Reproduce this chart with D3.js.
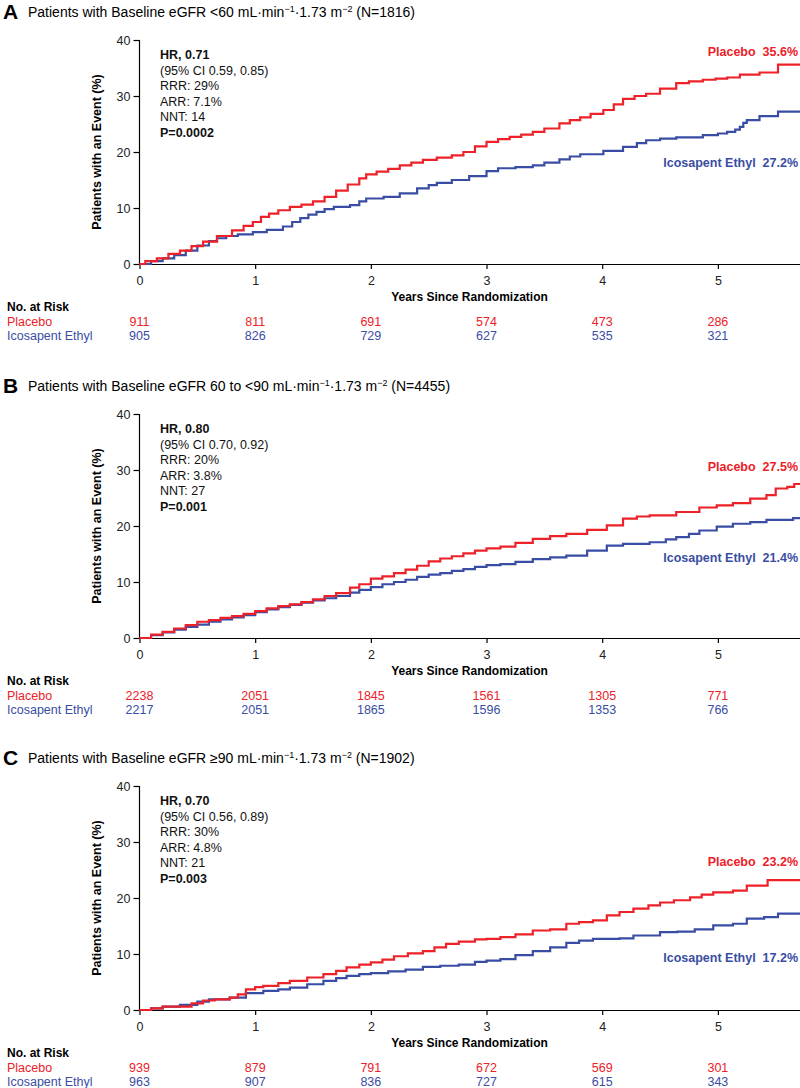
<!DOCTYPE html>
<html><head><meta charset="utf-8">
<script src="https://cdn.jsdelivr.net/npm/d3@7"></script>
<style>body{margin:0;background:#fff}svg{display:block}text{font-family:"Liberation Sans",Arial,sans-serif}</style>
</head><body><svg id="c" width="800" height="1088"></svg>
<script>
// ---------- data ----------
const years = [0, 1, 2, 3, 4, 5];
const yTicks = [0, 10, 20, 30, 40];
const groups = ["Placebo", "Icosapent Ethyl"];

const panelLetters = ["A", "B", "C"];
const panelTitles = [
  ["Patients with Baseline eGFR <60 mL·min", "−1", "·1.73 m", "−2", " (N=1816)"],
  ["Patients with Baseline eGFR 60 to <90 mL·min", "−1", "·1.73 m", "−2", " (N=4455)"],
  ["Patients with Baseline eGFR ≥90 mL·min", "−1", "·1.73 m", "−2", " (N=1902)"]
];
const statsHR = ["HR, 0.71", "HR, 0.80", "HR, 0.70"];
const statsCI = ["(95% CI 0.59, 0.85)", "(95% CI 0.70, 0.92)", "(95% CI 0.56, 0.89)"];
const statsRRR = ["RRR: 29%", "RRR: 20%", "RRR: 30%"];
const statsARR = ["ARR: 7.1%", "ARR: 3.8%", "ARR: 4.8%"];
const statsNNT = ["NNT: 14", "NNT: 27", "NNT: 21"];
const statsP = ["P=0.0002", "P=0.001", "P=0.003"];
const finalPlacebo = ["35.6%", "27.5%", "23.2%"];
const finalIcosapent = ["27.2%", "21.4%", "17.2%"];

const riskPlacebo = [
  [911, 811, 691, 574, 473, 286],
  [2238, 2051, 1845, 1561, 1305, 771],
  [939, 879, 791, 672, 569, 301]
];
const riskIcosapent = [
  [905, 826, 729, 627, 535, 321],
  [2217, 2051, 1865, 1596, 1353, 766],
  [963, 907, 836, 727, 615, 343]
];

// Kaplan-Meier cumulative event curves [years, %]
const kmPlaceboA = [[0,0],[0.05,0.5],[0.15,1.0],[0.25,1.8],[0.35,2.4],[0.45,3.2],[0.55,4.0],[0.67,5.0],[0.8,6.0],[0.9,6.8],[0.98,7.5],[1.05,8.4],[1.12,9.0],[1.2,9.6],[1.3,10.2],[1.4,10.6],[1.5,11.2],[1.6,12.0],[1.7,13.1],[1.8,14.2],[1.9,15.3],[1.96,16.0],[2.05,16.5],[2.15,17.0],[2.25,17.6],[2.35,18.1],[2.45,18.6],[2.57,19.0],[2.7,19.4],[2.8,20.0],[2.9,21.0],[3.0,21.8],[3.1,22.3],[3.2,22.7],[3.3,23.1],[3.4,23.6],[3.5,24.2],[3.63,25.1],[3.72,25.7],[3.81,26.2],[3.9,26.8],[4.01,27.5],[4.1,28.5],[4.18,29.5],[4.28,30.0],[4.38,30.4],[4.5,31.3],[4.64,32.3],[4.75,32.6],[4.87,32.9],[4.98,33.1],[5.08,33.3],[5.19,33.8],[5.36,34.2],[5.52,35.6],[5.71,35.6]];
const kmIcosapentA = [[0,0],[0.1,0.5],[0.2,1.0],[0.3,1.6],[0.4,2.4],[0.5,3.3],[0.6,4.1],[0.67,4.6],[0.75,5.0],[0.85,5.3],[0.98,5.7],[1.1,6.1],[1.24,6.7],[1.32,7.5],[1.39,8.2],[1.46,8.8],[1.53,9.3],[1.6,9.8],[1.68,10.2],[1.82,10.5],[1.9,11.2],[1.96,11.7],[2.11,12.0],[2.25,12.6],[2.4,13.5],[2.5,14.1],[2.57,14.5],[2.7,15.0],[2.85,15.7],[3.0,16.6],[3.1,17.1],[3.25,17.3],[3.4,17.6],[3.5,18.1],[3.63,18.7],[3.72,19.2],[3.81,19.6],[4.01,20.2],[4.18,20.9],[4.3,21.6],[4.38,22.1],[4.5,22.4],[4.64,22.6],[4.87,23.0],[5.0,23.3],[5.08,23.6],[5.15,24.0],[5.19,24.5],[5.22,25.2],[5.25,25.7],[5.36,26.4],[5.52,27.2],[5.71,27.2]];
const kmPlaceboB = [[0,0],[0.1,0.6],[0.2,1.1],[0.3,1.7],[0.4,2.3],[0.5,2.9],[0.6,3.2],[0.7,3.6],[0.8,3.9],[0.9,4.3],[1.0,4.8],[1.1,5.3],[1.2,5.7],[1.3,6.0],[1.4,6.4],[1.5,6.9],[1.6,7.5],[1.7,8.0],[1.82,9.0],[1.9,9.6],[2.0,10.6],[2.1,11.0],[2.2,11.6],[2.3,12.2],[2.4,12.9],[2.5,13.7],[2.6,14.2],[2.7,14.6],[2.8,15.1],[2.9,15.6],[3.0,16.0],[3.12,16.3],[3.25,17.0],[3.4,17.7],[3.55,18.2],[3.69,18.6],[3.87,19.3],[4.04,20.1],[4.18,21.3],[4.3,21.7],[4.41,21.9],[4.64,22.5],[4.84,23.3],[4.99,23.7],[5.13,24.1],[5.28,24.9],[5.42,25.5],[5.5,26.7],[5.6,27.0],[5.66,27.5],[5.71,27.5]];
const kmIcosapentB = [[0,0],[0.1,0.5],[0.2,1.0],[0.3,1.5],[0.4,2.0],[0.5,2.4],[0.6,2.9],[0.7,3.3],[0.8,3.7],[0.9,4.1],[1.0,4.6],[1.1,5.1],[1.2,5.5],[1.3,5.9],[1.4,6.3],[1.5,6.7],[1.6,7.1],[1.7,7.5],[1.82,8.1],[1.9,8.6],[2.0,9.1],[2.1,9.6],[2.2,10.0],[2.3,10.4],[2.4,10.9],[2.5,11.3],[2.6,11.6],[2.7,12.0],[2.8,12.3],[2.9,12.7],[3.0,13.0],[3.12,13.2],[3.25,13.6],[3.4,14.1],[3.55,14.4],[3.69,14.7],[3.87,15.6],[4.04,16.5],[4.18,16.8],[4.41,17.1],[4.55,17.6],[4.64,18.0],[4.75,18.6],[4.84,19.2],[4.99,19.9],[5.13,20.4],[5.28,20.7],[5.42,21.1],[5.65,21.4],[5.71,21.4]];
const kmPlaceboC = [[0,0],[0.1,0.3],[0.2,0.6],[0.37,0.6],[0.45,1.2],[0.55,1.7],[0.65,1.9],[0.78,2.2],[0.85,2.8],[0.92,3.7],[1.0,4.1],[1.07,4.3],[1.2,4.8],[1.3,5.2],[1.45,5.8],[1.59,6.4],[1.7,7.0],[1.79,7.6],[1.9,8.1],[2.0,8.5],[2.1,9.0],[2.2,9.6],[2.32,10.1],[2.45,10.5],[2.55,11.2],[2.65,11.8],[2.76,12.2],[2.9,12.6],[3.0,12.7],[3.12,13.0],[3.25,13.5],[3.4,14.2],[3.55,14.4],[3.69,15.4],[3.8,15.7],[3.92,16.0],[4.04,16.9],[4.15,17.5],[4.27,18.1],[4.4,18.7],[4.5,19.2],[4.62,19.6],[4.76,20.1],[4.86,20.6],[4.96,21.0],[5.13,21.3],[5.25,22.2],[5.43,23.2],[5.71,23.2]];
const kmIcosapentC = [[0,0],[0.1,0.3],[0.2,0.6],[0.35,0.9],[0.5,1.5],[0.6,1.9],[0.78,2.2],[0.92,3.0],[1.07,3.4],[1.2,3.7],[1.3,4.0],[1.45,4.6],[1.59,5.2],[1.7,5.7],[1.79,6.1],[1.9,6.4],[2.0,6.6],[2.15,6.9],[2.3,7.2],[2.45,7.7],[2.6,7.9],[2.76,8.1],[2.9,8.6],[3.0,8.8],[3.12,9.1],[3.25,9.8],[3.4,10.5],[3.55,11.2],[3.69,12.0],[3.8,12.4],[3.92,12.7],[4.15,12.8],[4.27,13.3],[4.5,13.9],[4.65,14.0],[4.8,14.4],[4.96,15.1],[5.13,15.4],[5.25,16.3],[5.4,16.6],[5.52,17.2],[5.71,17.2]];
const kmPlacebo = [kmPlaceboA, kmPlaceboB, kmPlaceboC];
const kmIcosapent = [kmIcosapentA, kmIcosapentB, kmIcosapentC];

// ---------- layout ----------
const RED = "#ED2128", BLUE = "#3A4DA4";
const FONT = '"Liberation Sans", Arial, sans-serif';
const panelOffsets = [0, 374, 746];
const placeboLabelY = [56, 97, 120];
const icoLabelY = [166.5, 187.5, 215.5];
const svg = d3.select("#c");
const x = d3.scaleLinear().domain([0, 5.71]).range([139.5, 800]);

panelLetters.forEach((letter, i) => {
  const off = panelOffsets[i];
  const g = svg.append("g").attr("transform", `translate(0,${off})`);
  const y = d3.scaleLinear().domain([0, 40]).range([264, 40]);

  // title
  g.append("text").attr("x", 3).attr("y", 19).attr("font-size", 21).attr("font-weight", "bold").text(letter);
  const t = g.append("text").attr("x", 28).attr("y", 17).attr("font-size", 14);
  panelTitles[i].forEach((s, k) => {
    const ts = t.append("tspan").text(s);
    if (k === 1 || k === 3) ts.attr("font-size", 9).attr("dy", -5);
    if (k === 2 || k === 4) ts.attr("dy", 5);
  });

  // axes
  const ya = g.append("g").attr("transform", "translate(139.5,0)")
    .call(d3.axisLeft(y).tickValues(yTicks).tickSize(6).tickSizeOuter(0).tickPadding(3));
  const xa = g.append("g").attr("transform", "translate(0,264)")
    .call(d3.axisBottom(x).tickValues(years).tickFormat(d3.format("d")).tickSize(5).tickSizeOuter(0).tickPadding(7));
  [ya, xa].forEach(a => {
    a.selectAll("path,line").attr("stroke", "#000").attr("stroke-width", 1.2);
    a.selectAll("text").attr("font-size", 12.5).attr("font-family", FONT).attr("fill", "#222");
  });
  ya.select(".domain").attr("d", `M0,${y(40)}V${y(0)}`);

  g.append("text").attr("transform", "translate(101,152) rotate(-90)").attr("text-anchor", "middle")
    .attr("font-size", 12.5).attr("font-weight", "bold").text("Patients with an Event (%)");
  g.append("text").attr("x", 469.5).attr("y", 301).attr("text-anchor", "middle")
    .attr("font-size", 12).attr("font-weight", "bold").text("Years Since Randomization");

  // curves
  const line = d3.line().x(d => x(d[0])).y(d => y(d[1])).curve(d3.curveStepAfter);
  g.append("path").datum(kmIcosapent[i]).attr("d", line).attr("fill", "none").attr("stroke", BLUE).attr("stroke-width", 2.2);
  g.append("path").datum(kmPlacebo[i]).attr("d", line).attr("fill", "none").attr("stroke", RED).attr("stroke-width", 2.2);

  // stats
  const stats = [[statsHR[i], true], [statsCI[i], false], [statsRRR[i], false], [statsARR[i], false], [statsNNT[i], false], [statsP[i], true]];
  stats.forEach((s, k) => {
    g.append("text").attr("x", 160).attr("y", 59 + k * 15.5).attr("font-size", 12.5)
      .attr("font-weight", s[1] ? "bold" : "normal").attr("fill", "#111").text(s[0]);
  });

  // end labels
  g.append("text").attr("x", 798).attr("y", placeboLabelY[i]).attr("text-anchor", "end").attr("font-size", 12.5)
    .attr("font-weight", "bold").attr("fill", RED).style("white-space", "pre").text(`${groups[0]}  ${finalPlacebo[i]}`);
  g.append("text").attr("x", 798).attr("y", icoLabelY[i]).attr("text-anchor", "end").attr("font-size", 12.5)
    .attr("font-weight", "bold").attr("fill", BLUE).style("white-space", "pre").text(`${groups[1]}  ${finalIcosapent[i]}`);

  // risk table
  g.append("text").attr("x", 7).attr("y", 310.5).attr("font-size", 12).attr("font-weight", "bold").text("No. at Risk");
  [[groups[0], riskPlacebo[i], RED, 325.5], [groups[1], riskIcosapent[i], BLUE, 340]].forEach(([name, vals, col, yy]) => {
    g.append("text").attr("x", 7).attr("y", yy).attr("font-size", 12.5).attr("fill", col).text(name);
    g.selectAll(null).data(vals).join("text").attr("x", (d, j) => x(years[j])).attr("y", yy)
      .attr("text-anchor", "middle").attr("font-size", 12.5).attr("fill", col).text(d => d);
  });
});
</script></body></html>
